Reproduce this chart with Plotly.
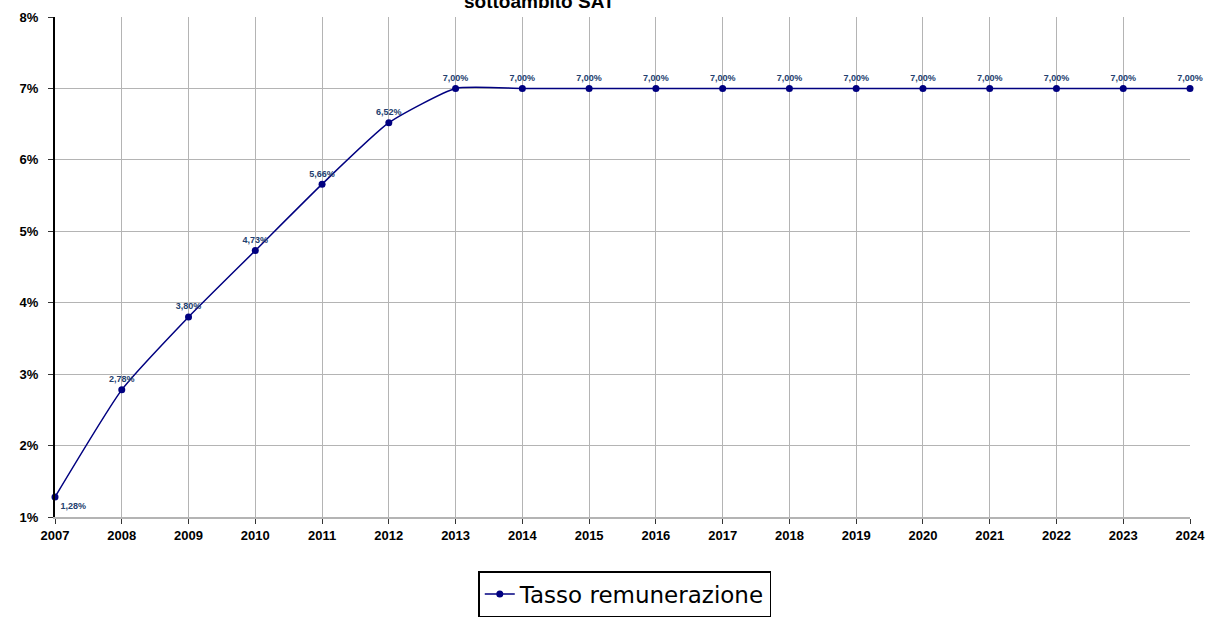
import plotly.graph_objects as go

# Tasso di remunerazione per anno (valori in %)
anni = [2007, 2008, 2009, 2010, 2011, 2012, 2013, 2014, 2015, 2016,
        2017, 2018, 2019, 2020, 2021, 2022, 2023, 2024]
tasso = [1.28, 2.78, 3.80, 4.73, 5.66, 6.52, 7.00, 7.00, 7.00, 7.00,
         7.00, 7.00, 7.00, 7.00, 7.00, 7.00, 7.00, 7.00]
y_ticks = [1, 2, 3, 4, 5, 6, 7, 8]
y_tick_labels = ["1%", "2%", "3%", "4%", "5%", "6%", "7%", "8%"]

etichette = [f"{v:.2f}%".replace(".", ",") for v in tasso]
posizioni = ["bottom right"] + ["top center"] * 17

NAVY = "#000080"
FONT = "Arial, Liberation Sans, sans-serif"

fig = go.Figure()
fig.add_trace(go.Scatter(
    x=anni, y=tasso,
    mode="lines+markers+text",
    name="Tasso remunerazione",
    line=dict(color=NAVY, width=1.5, shape="spline", smoothing=0.5),
    marker=dict(color=NAVY, size=7, symbol="circle"),
    text=etichette,
    textposition=posizioni,
    textfont=dict(family=FONT, size=9, color="#23406e", weight="bold"),
    cliponaxis=False,
))

fig.add_annotation(
    text="<b>sottoambito SAT</b>",
    xref="paper", yref="paper", x=0.427, y=1,
    xanchor="center", yanchor="bottom", yshift=3,
    showarrow=False,
    font=dict(family=FONT, size=19, color="#000000"),
)

fig.update_layout(
    width=1219, height=619,
    margin=dict(l=55, r=29, t=17, b=102, autoexpand=False),
    paper_bgcolor="white",
    plot_bgcolor="white",
    showlegend=True,
    legend=dict(
        orientation="h",
        x=0.502, y=-0.2, xanchor="center", yanchor="bottom",
        bordercolor="#000000", borderwidth=1.5,
        bgcolor="white",
        font=dict(family="DejaVu Sans, Arial, sans-serif", size=23, color="#000000"),
        itemwidth=30,
    ),
    font=dict(family=FONT, color="#000000"),
)

fig.update_xaxes(
    range=[2007, 2024],
    tickmode="array", tickvals=anni, ticktext=[str(a) for a in anni],
    tickfont=dict(size=13, family=FONT, color="#000000", weight="bold"),
    ticklabelstandoff=1,
    automargin=False,
    showgrid=True, gridcolor="#b4b4b4", gridwidth=1,
    showline=True, linecolor="#b4b4b4", linewidth=1.5,
    ticks="outside", ticklen=5, tickcolor="#333333",
    zeroline=False,
)
fig.update_yaxes(
    range=[1, 8],
    tickmode="array", tickvals=y_ticks, ticktext=y_tick_labels,
    tickfont=dict(size=13, family=FONT, color="#000000", weight="bold"),
    ticklabelstandoff=7,
    automargin=False,
    showgrid=True, gridcolor="#b4b4b4", gridwidth=1,
    showline=True, linecolor="#000000", linewidth=2,
    ticks="outside", ticklen=5, tickcolor="#333333",
    zeroline=False,
)

fig.write_html("out.html")
